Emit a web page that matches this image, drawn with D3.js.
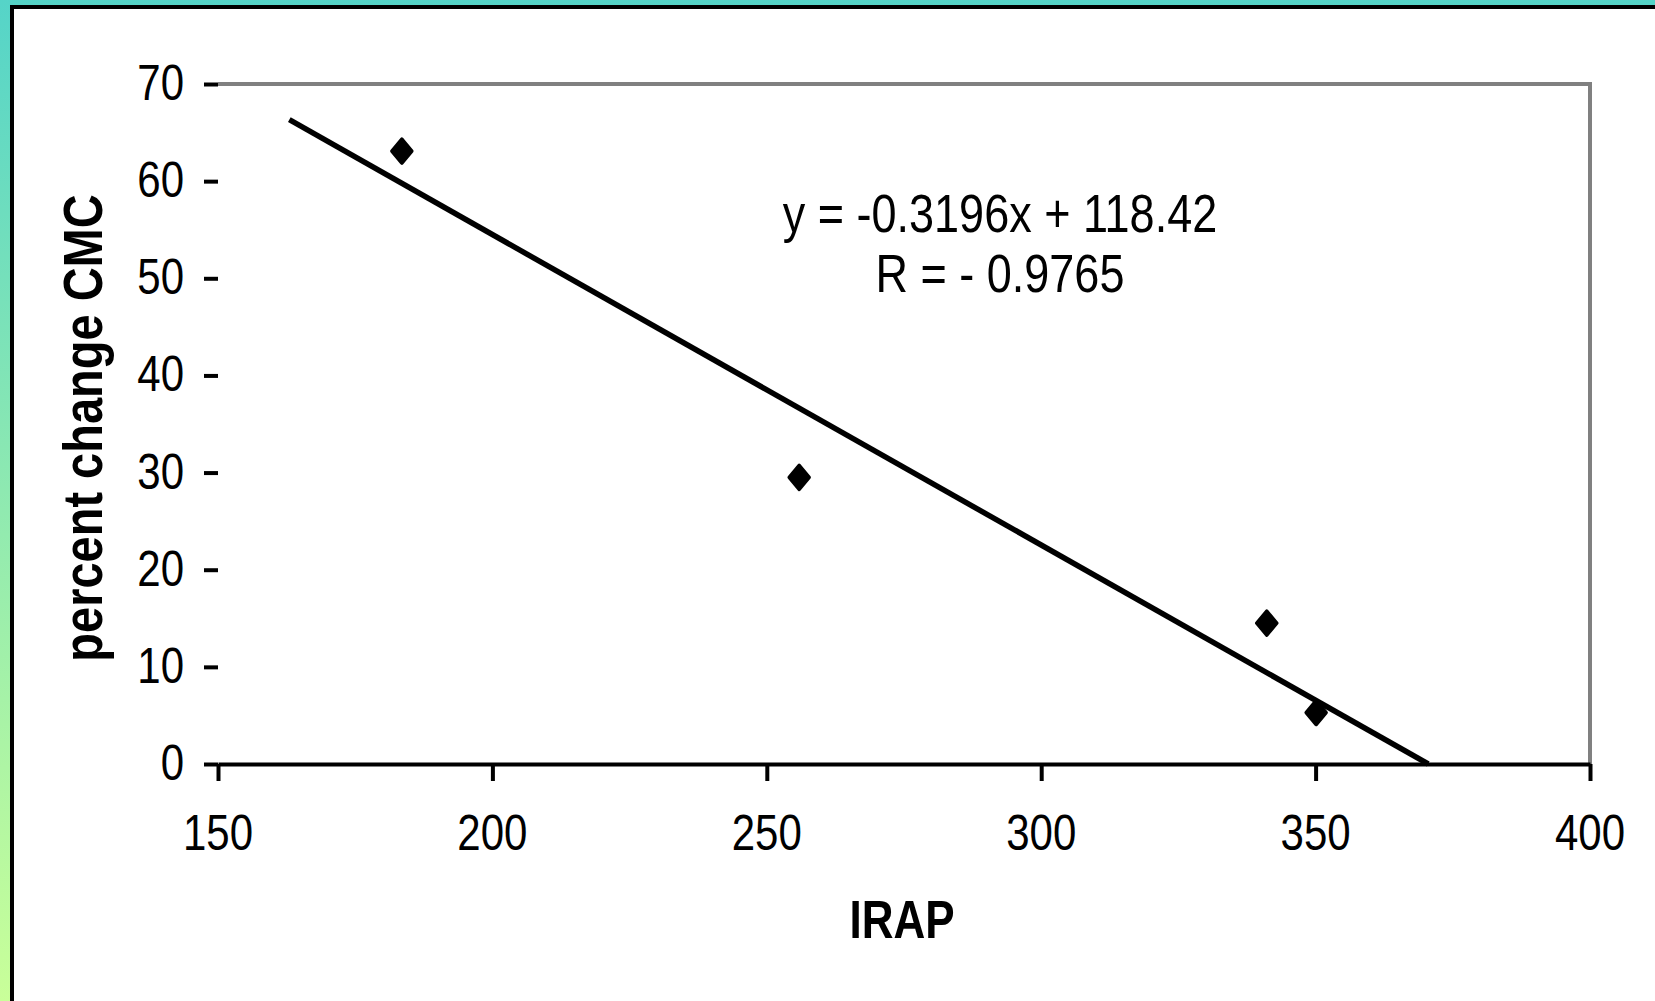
<!DOCTYPE html>
<html>
<head>
<meta charset="utf-8">
<script src="https://cdn.jsdelivr.net/npm/d3@7"></script>
<style>
  body { margin: 0; background: #fff; }
  svg { display: block; }
  text { font-family: "Liberation Sans", Arial, sans-serif; fill: #000; }
</style>
</head>
<body>
<script>
// values
const irap = [183.5, 255.9, 341.1, 350.1];
const pctChange = [63.1, 29.5, 14.5, 5.3];
const xTicks = [150, 200, 250, 300, 350, 400];
const yTicks = [0, 10, 20, 30, 40, 50, 60, 70];
const slope = -0.3196, intercept = 118.42;
const trendFrom = 163;
const eqLines = ["y = -0.3196x + 118.42", "R = - 0.9765"];

const W = 1655, H = 1001;
const plotL = 218, plotR = 1590, plotT = 84, plotB = 764;
const stretch = 1.2;

const svg = d3.select("body").append("svg")
    .attr("width", W)
    .attr("height", H);

// outer frame: gradient border, black rule, white card
const grad = svg.append("defs").append("linearGradient")
    .attr("id", "bg").attr("x1", 0).attr("y1", 0).attr("x2", 0).attr("y2", 1);
grad.append("stop").attr("offset", "0%").attr("stop-color", "#55d4c8");
grad.append("stop").attr("offset", "100%").attr("stop-color", "#c9ff99");
svg.append("rect").attr("width", W).attr("height", H).attr("fill", "url(#bg)");
svg.append("rect").attr("x", 10).attr("y", 5).attr("width", W).attr("height", H).attr("fill", "#000");
svg.append("rect").attr("x", 14).attr("y", 9).attr("width", W).attr("height", H).attr("fill", "#fff");

const x = d3.scaleLinear().domain([150, 400]).range([plotL, plotR]);
const y = d3.scaleLinear().domain([0, 70]).range([plotB, plotT]);

// plot area border (gray top + right)
svg.append("path")
    .attr("d", `M${plotL},${plotT}H${plotR}V${plotB}`)
    .attr("fill", "none")
    .attr("stroke", "#808080")
    .attr("stroke-width", 4);

// axes
const gx = svg.append("g")
    .attr("transform", `translate(0,${plotB})`)
    .call(d3.axisBottom(x).tickValues(xTicks).tickSize(17).tickSizeOuter(0).tickFormat(""));
const gy = svg.append("g")
    .attr("transform", `translate(${plotL},0)`)
    .call(d3.axisLeft(y).tickValues(yTicks).tickSize(14).tickSizeOuter(0).tickFormat(""));
gy.select(".domain").remove();
svg.selectAll(".domain, .tick line")
    .attr("stroke", "#000")
    .attr("stroke-width", 4)
    .attr("stroke-linecap", "butt");

// tick labels
svg.append("g").selectAll("text")
  .data(xTicks)
  .join("text")
    .attr("transform", d => `translate(${x(d)},850) scale(1,${stretch})`)
    .attr("text-anchor", "middle")
    .attr("font-size", 42)
    .text(d => d);

svg.append("g").selectAll("text")
  .data(yTicks)
  .join("text")
    .attr("transform", d => `translate(184,${y(d) + 16}) scale(1,${stretch})`)
    .attr("text-anchor", "end")
    .attr("font-size", 42)
    .text(d => d);

// axis titles
svg.append("text")
    .attr("transform", `translate(902,938) scale(1,${stretch})`)
    .attr("text-anchor", "middle")
    .attr("font-size", 44)
    .attr("font-weight", "bold")
    .text("IRAP");

svg.append("text")
    .attr("transform", `translate(102,428) rotate(-90) scale(1,1.17)`)
    .attr("text-anchor", "middle")
    .attr("font-size", 47)
    .attr("font-weight", "bold")
    .text("percent change CMC");

// trend line
const trendTo = -intercept / slope;
svg.append("line")
    .attr("x1", x(trendFrom)).attr("y1", y(slope * trendFrom + intercept))
    .attr("x2", x(trendTo)).attr("y2", y(0))
    .attr("stroke", "#000")
    .attr("stroke-width", 5.5);

// points
svg.append("g").selectAll("path")
  .data(irap.map((v, i) => [v, pctChange[i]]))
  .join("path")
    .attr("transform", d => `translate(${x(d[0])},${y(d[1])})`)
    .attr("d", "M0,-12L10,0L0,12L-10,0Z")
    .attr("fill", "#000")
    .attr("stroke", "#000")
    .attr("stroke-width", 3.5)
    .attr("stroke-linejoin", "round");

// equation label
svg.append("g").selectAll("text")
  .data(eqLines)
  .join("text")
    .attr("transform", (d, i) => `translate(1000,${232 + i * 60}) scale(1,${stretch})`)
    .attr("text-anchor", "middle")
    .attr("font-size", 45)
    .text(d => d);
</script>
</body>
</html>
